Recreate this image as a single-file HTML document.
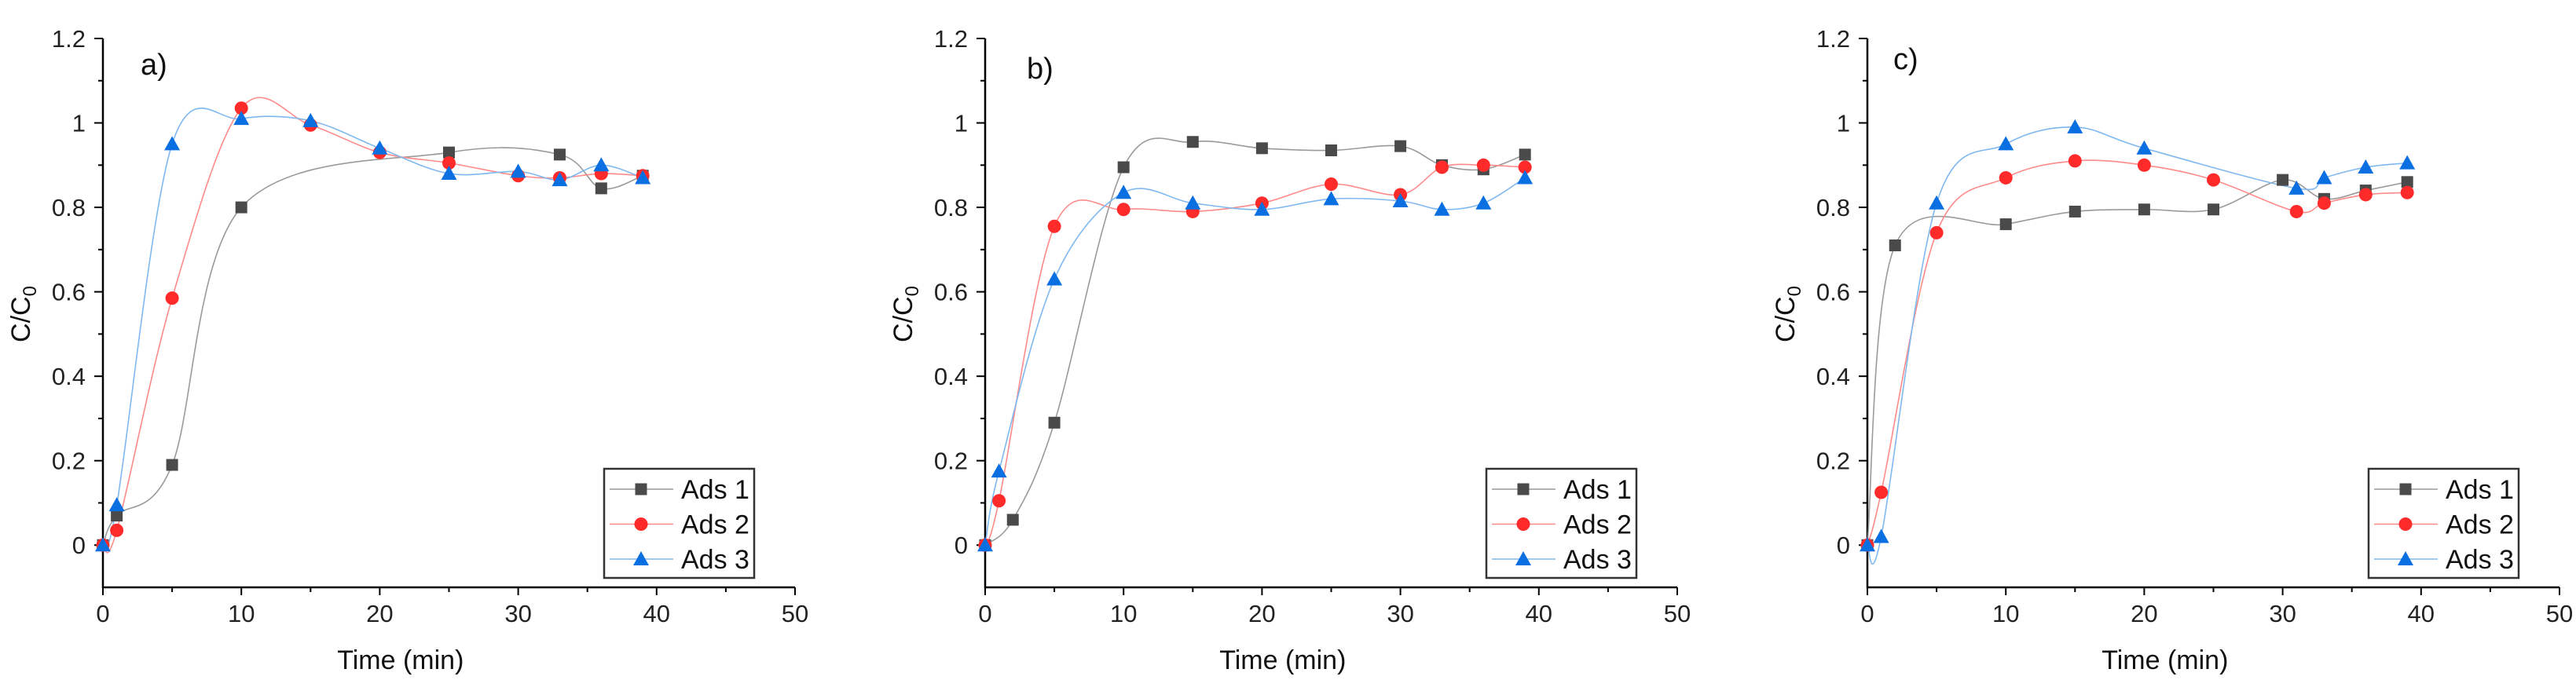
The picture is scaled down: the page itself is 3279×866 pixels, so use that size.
<!DOCTYPE html>
<html><head><meta charset="utf-8"><style>
html,body{margin:0;padding:0;background:#fff;}
svg{display:block;font-family:"Liberation Sans",Arial,sans-serif;}
</style></head><body>
<svg id="chart" width="3279" height="866" viewBox="0 0 3279 866" xmlns="http://www.w3.org/2000/svg"></svg>
<script>
const panelLabels = ["a)", "b)", "c)"];
const seriesNames = ["Ads 1", "Ads 2", "Ads 3"];
const xTicks = [0, 10, 20, 30, 40, 50];
const yTicks = [0, 0.2, 0.4, 0.6, 0.8, 1, 1.2];
const yTickLabels = ["0", "0.2", "0.4", "0.6", "0.8", "1", "1.2"];

const aX1 = [0, 1, 5, 10, 25, 33, 36, 39];
const aY1 = [0, 0.07, 0.19, 0.80, 0.93, 0.925, 0.845, 0.875];
const aX2 = [0, 1, 5, 10, 15, 20, 25, 30, 33, 36, 39];
const aY2 = [0, 0.035, 0.585, 1.035, 0.995, 0.93, 0.905, 0.875, 0.87, 0.88, 0.875];
const aX3 = [0, 1, 5, 10, 15, 20, 25, 30, 33, 36, 39];
const aY3 = [0, 0.095, 0.95, 1.01, 1.005, 0.94, 0.88, 0.885, 0.865, 0.90, 0.87];

const bX1 = [0, 2, 5, 10, 15, 20, 25, 30, 33, 36, 39];
const bY1 = [0, 0.06, 0.29, 0.895, 0.955, 0.94, 0.935, 0.945, 0.90, 0.89, 0.925];
const bX2 = [0, 1, 5, 10, 15, 20, 25, 30, 33, 36, 39];
const bY2 = [0, 0.105, 0.755, 0.795, 0.79, 0.81, 0.855, 0.83, 0.895, 0.90, 0.895];
const bX3 = [0, 1, 5, 10, 15, 20, 25, 30, 33, 36, 39];
const bY3 = [0, 0.175, 0.63, 0.835, 0.81, 0.795, 0.82, 0.815, 0.795, 0.81, 0.87];

const cX1 = [0, 2, 10, 15, 20, 25, 30, 33, 36, 39];
const cY1 = [0, 0.71, 0.76, 0.79, 0.795, 0.795, 0.865, 0.82, 0.84, 0.86];
const cX2 = [0, 1, 5, 10, 15, 20, 25, 31, 33, 36, 39];
const cY2 = [0, 0.125, 0.74, 0.87, 0.91, 0.90, 0.865, 0.79, 0.81, 0.83, 0.835];
const cX3 = [0, 1, 5, 10, 15, 20, 31, 33, 36, 39];
const cY3 = [0, 0.02, 0.81, 0.95, 0.99, 0.94, 0.845, 0.87, 0.895, 0.905];

const panels = [
  {x0:131, lx:48, ly:95, xs:[aX1,aX2,aX3], ys:[aY1,aY2,aY3]},
  {x0:1254, lx:53, ly:100, xs:[bX1,bX2,bX3], ys:[bY1,bY2,bY3]},
  {x0:2377, lx:33, ly:88, xs:[cX1,cX2,cX3], ys:[cY1,cY2,cY3]}
];
const lineColors = ["#9a9a9a", "#ff8a8a", "#7fb8f0"];
const markColors = ["#4a4a4a", "#ff2b2b", "#0a6fe0"];
const NS = "http://www.w3.org/2000/svg";
const svg = document.getElementById("chart");
const PW = 881, yTop = 49, yBot = 748;
function mk(tag, attrs, parent) {
  const e = document.createElementNS(NS, tag);
  for (const k in attrs) e.setAttribute(k, attrs[k]);
  parent.appendChild(e);
  return e;
}
function spline(pts) {
  let d = "M" + pts[0][0] + "," + pts[0][1];
  for (let i = 0; i < pts.length - 1; i++) {
    const p0 = pts[Math.max(0, i - 1)], p1 = pts[i], p2 = pts[i + 1], p3 = pts[Math.min(pts.length - 1, i + 2)];
    const c1 = [p1[0] + (p2[0] - p0[0]) / 6, p1[1] + (p2[1] - p0[1]) / 6];
    const c2 = [p2[0] - (p3[0] - p1[0]) / 6, p2[1] - (p3[1] - p1[1]) / 6];
    d += " C" + c1[0] + "," + c1[1] + " " + c2[0] + "," + c2[1] + " " + p2[0] + "," + p2[1];
  }
  return d;
}
function marker(g, s, cx, cy) {
  let m;
  if (s === 0) m = mk("rect", {x: cx - 7.5, y: cy - 7.5, width: 15, height: 15, fill: markColors[0]}, g);
  else if (s === 1) m = mk("circle", {cx: cx, cy: cy, r: 8.5, fill: markColors[1]}, g);
  else m = mk("polygon", {points: (cx) + "," + (cy - 10) + " " + (cx - 10) + "," + (cy + 8) + " " + (cx + 10) + "," + (cy + 8), fill: markColors[2]}, g);
  return m;
}
panels.forEach((p, pi) => {
  const sx = v => p.x0 + v / 50 * PW;
  const sy = v => yTop + (1.2 - v) / 1.3 * (yBot - yTop);
  const g = mk("g", {}, svg);
  
  
  // axes
  const ax = mk("path", {d: "M" + p.x0 + "," + yTop + " V" + yBot + " H" + (p.x0 + PW), stroke: "#000", "stroke-width": 2.5, fill: "none"}, g);
  
  
  for (let v = 0; v <= 50; v += 5) {
    const X = sx(v);
    mk("line", {x1: X, y1: yBot, x2: X, y2: yBot + (v % 10 === 0 ? 10 : 6), stroke: "#000", "stroke-width": 2}, g);
  }
  xTicks.forEach(v => {
    const t = mk("text", {x: sx(v), y: yBot + 44, "font-size": 31, "text-anchor": "middle", fill: "#222"}, g);
    t.textContent = String(v);
    
    
  });
  for (let k = -1; k <= 12; k++) {
    const v = k / 10, Y = sy(v);
    if (k === -1) continue;
    mk("line", {x1: p.x0, y1: Y, x2: p.x0 - (k % 2 === 0 ? 11 : 6), y2: Y, stroke: "#000", "stroke-width": 2}, g);
  }
  yTicks.forEach((v, i) => {
    const t = mk("text", {x: p.x0 - 22, y: sy(v) + 11, "font-size": 31, "text-anchor": "end", fill: "#222"}, g);
    t.textContent = yTickLabels[i];
    
    
  });
  const xt = mk("text", {x: sx(21.5), y: 852, "font-size": 34, "text-anchor": "middle", fill: "#111"}, g);
  xt.textContent = "Time (min)";
  
  
  const yt = mk("text", {x: 0, y: 0, "font-size": 34, "text-anchor": "middle", fill: "#111", transform: "translate(" + (p.x0 - 93) + ",400) rotate(-90)"}, g);
  yt.innerHTML = 'C/C<tspan font-size="24" dy="8">0</tspan>';
  
  
  const pl = mk("text", {x: p.x0 + p.lx, y: p.ly, "font-size": 38, fill: "#111"}, g);
  pl.textContent = panelLabels[pi];
  
  
  // series
  for (let s = 0; s < 3; s++) {
    const xs = p.xs[s], ys = p.ys[s];
    const pts = xs.map((v, i) => [sx(v), sy(ys[i])]);
    const ln = mk("path", {d: spline(pts), stroke: lineColors[s], "stroke-width": 1.6, fill: "none"}, g);
    
    
  }
  for (let s = 0; s < 3; s++) {
    const xs = p.xs[s], ys = p.ys[s];
    xs.forEach((v, i) => {
      const m = marker(g, s, sx(v), sy(ys[i]));
      
      
    });
  }
  // legend
  const lg = mk("g", {}, g);
  
  
  const L = p.x0 + 638, T = 597;
  mk("rect", {x: L, y: T, width: 191, height: 139, fill: "#fff", stroke: "#333", "stroke-width": 2.5}, lg);
  seriesNames.forEach((n, s) => {
    const Y = T + 26 + s * 44.5;
    const e = mk("g", {}, lg);
    
    
    mk("line", {x1: L + 7, y1: Y, x2: L + 88, y2: Y, stroke: lineColors[s], "stroke-width": 1.6}, e);
    marker(e, s, L + 47, Y);
    const t = mk("text", {x: L + 98, y: Y + 12, "font-size": 34, fill: "#111"}, e);
    t.textContent = n;
  });
});
</script>
</body></html>
